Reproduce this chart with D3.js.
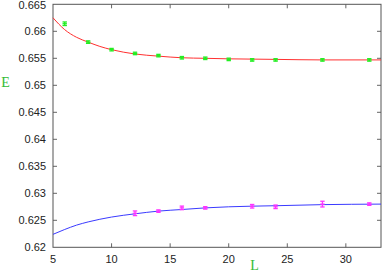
<!DOCTYPE html>
<html><head><meta charset="utf-8">
<script src="https://cdn.jsdelivr.net/npm/d3@7"></script>
<style>body{margin:0;background:#fff}svg{display:block}</style>
</head><body>
<svg id="c" width="382" height="271"></svg>
<script>
// Data
const xTicks = [5, 10, 15, 20, 25, 30];
const yTicks = [0.62, 0.625, 0.63, 0.635, 0.64, 0.645, 0.65, 0.655, 0.66, 0.665];
const yTickLabels = ["0.62","0.625","0.63","0.635","0.64","0.645","0.65","0.655","0.66","0.665"];

const greenL = [6, 8, 10, 12, 14, 16, 18, 20, 22, 24, 28, 32];
const greenE = [0.6614, 0.6580, 0.6566, 0.6559, 0.6555, 0.6551, 0.6550, 0.6548, 0.6547, 0.6547, 0.6547, 0.6547];
const greenErr = [0.0002, 0.0001, 0.0001, 0.0001, 0.0001, 0.0001, 0.0001, 0.0001, 0.0001, 0.0001, 0.0001, 0.0001];

const magL = [12, 14, 16, 18, 22, 24, 28, 32];
const magE = [0.6263, 0.6267, 0.6273, 0.6273, 0.6276, 0.6275, 0.6280, 0.6280];
const magErr = [0.0003, 0.0001, 0.0002, 0.0001, 0.0002, 0.0002, 0.0004, 0.0001];

const redCurveL = [5, 6, 7, 8, 9, 10, 12, 14, 16, 18, 20, 24, 28, 33];
const redCurveE = [0.6625, 0.6603, 0.6589, 0.6580, 0.6572, 0.6566, 0.6558, 0.6554, 0.6551, 0.6550, 0.6549, 0.6548, 0.6547, 0.6547];

const blueCurveL = [5, 6, 7, 8, 10, 12, 14, 16, 18, 20, 24, 28, 33];
const blueCurveE = [0.6224, 0.6233, 0.6241, 0.6247, 0.6256, 0.6262, 0.6267, 0.6270, 0.6273, 0.6275, 0.6277, 0.6279, 0.6280];

const svg = d3.select("#c");
const L = 53, R = 381, T = 4.3, B = 247.3;
const x = d3.scaleLinear().domain([5, 33]).range([L, R]);
const y = d3.scaleLinear().domain([0.62, 0.665]).range([B, T]);

// ticks (inward) on all four sides
const tk = svg.append("g").attr("stroke", "#666").attr("stroke-width", 1);
xTicks.forEach(v => {
  if (v === 5) return;
  tk.append("line").attr("x1", x(v)).attr("x2", x(v)).attr("y1", B).attr("y2", B - 4);
  tk.append("line").attr("x1", x(v)).attr("x2", x(v)).attr("y1", T).attr("y2", T + 4);
});
yTicks.forEach(v => {
  if (v === 0.62 || v === 0.665) return;
  tk.append("line").attr("x1", L).attr("x2", L + 4).attr("y1", y(v)).attr("y2", y(v));
  tk.append("line").attr("x1", R).attr("x2", R - 4).attr("y1", y(v)).attr("y2", y(v));
});

// border
svg.append("rect").attr("x", L).attr("y", T).attr("width", R - L).attr("height", B - T)
  .attr("fill", "none").attr("stroke", "#555").attr("stroke-width", 1);

// tick labels
const lab = svg.append("g").attr("font-family", "Liberation Sans, Arial, sans-serif")
  .attr("font-size", 11).attr("fill", "#222");
yTicks.forEach((v, i) => {
  lab.append("text").attr("x", 46).attr("y", Math.max(y(v) + 4, 9)).attr("text-anchor", "end").text(yTickLabels[i]);
});
xTicks.forEach(v => {
  lab.append("text").attr("x", x(v)).attr("y", 263).attr("text-anchor", "middle").text(v);
});

// axis titles
svg.append("text").attr("x", 5.5).attr("y", 87).attr("text-anchor", "middle")
  .attr("font-family", "Liberation Serif, Times New Roman, serif").attr("font-size", 14)
  .attr("fill", "#33bb33").text("E");
svg.append("text").attr("x", 254.5).attr("y", 269.5).attr("text-anchor", "middle")
  .attr("font-family", "Liberation Serif, Times New Roman, serif").attr("font-size", 14)
  .attr("fill", "#33bb33").text("L");

// curves
const line = d3.line().x(d => x(d[0])).y(d => y(d[1])).curve(d3.curveMonotoneX);
svg.append("path").datum(redCurveL.map((v, i) => [v, redCurveE[i]]))
  .attr("d", line).attr("fill", "none").attr("stroke", "#ff3030").attr("stroke-width", 1);
svg.append("path").datum(blueCurveL.map((v, i) => [v, blueCurveE[i]]))
  .attr("d", line).attr("fill", "none").attr("stroke", "#3a3aff").attr("stroke-width", 1);

// points with error bars
function points(Ls, Es, Errs, color) {
  const g = svg.append("g").attr("stroke", color).attr("stroke-width", 1.3);
  Ls.forEach((l, i) => {
    const cx = x(l), cy = y(Es[i]);
    const y1 = y(Es[i] + Errs[i]), y2 = y(Es[i] - Errs[i]);
    g.append("line").attr("x1", cx).attr("x2", cx).attr("y1", y1 - 0.7).attr("y2", y2 + 0.7);
    g.append("line").attr("x1", cx - 2.2).attr("x2", cx + 2.2).attr("y1", y1 - 0.7).attr("y2", y1 - 0.7);
    g.append("line").attr("x1", cx - 2.2).attr("x2", cx + 2.2).attr("y1", y2 + 0.7).attr("y2", y2 + 0.7);
    g.append("line").attr("x1", cx - 2.2).attr("x2", cx + 2.2).attr("y1", cy).attr("y2", cy);
  });
}
points(greenL, greenE, greenErr, "#22ee22");
points(magL, magE, magErr, "#ff33ff");
</script>
</body></html>
